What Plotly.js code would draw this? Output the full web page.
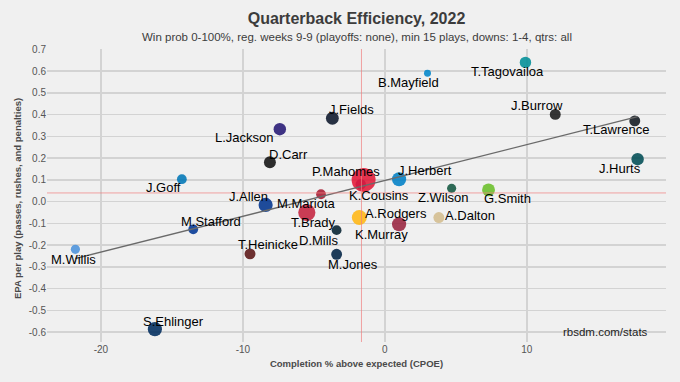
<!DOCTYPE html>
<html>
<head>
<meta charset="utf-8">
<script src="https://cdn.plot.ly/plotly-3.0.1.min.js"></script>
<style>html,body{margin:0;padding:0;background:#f0f0f0;}#chart{width:680px;height:382px;}</style>
</head>
<body>
<div id="chart"></div>
<script>
// ---- data ----
const players = ["M.Willis","M.Stafford","S.Ehlinger","T.Heinicke","J.Allen","M.Mariota","T.Brady","D.Mills","M.Jones","K.Cousins","P.Mahomes","A.Rodgers","K.Murray","J.Herbert","Z.Wilson","G.Smith","A.Dalton","B.Mayfield","T.Tagovailoa","J.Burrow","T.Lawrence","J.Hurts","J.Goff","L.Jackson","J.Fields","D.Carr"];
const cpoe = [-21.8,-13.5,-16.2,-9.5,-8.4,-4.5,-5.5,-3.4,-3.4,-1.7,-1.5,-1.8,1.0,1.0,4.7,7.3,3.8,3.0,9.9,12.0,17.6,17.8,-14.3,-7.4,-3.7,-8.1];
const epa = [-0.219,-0.127,-0.586,-0.240,-0.015,0.034,-0.050,-0.131,-0.242,0.080,0.100,-0.073,-0.104,0.103,0.061,0.054,-0.073,0.590,0.640,0.401,0.371,0.195,0.103,0.333,0.383,0.181];
const plays = [18,19,28,21,28,19,36,19,21,20,60,30,28,28,18,25,21,15,22,21,21,24,19,24,25,23];
const teamColors = ["#4B92DB","#003594","#002C5F","#5A1414","#00338D","#A71930","#C4223E","#03202F","#002244","#4F2683","#E31837","#FFB612","#97233F","#0080C6","#125740","#69BE28","#D3BC8D","#0085CA","#008E97","#1a1a1a","#101820","#004C54","#0076B6","#241773","#0B162A","#111111"];
const avgCPOE = -1.65;
const avgEPA = 0.04;
const xTickVals = [-20,-10,0,10];
const xTickText = ["-20","-10","0","10"];
const yTickVals = [0.7,0.6,0.5,0.4,0.3,0.2,0.1,0.0,-0.1,-0.2,-0.3,-0.4,-0.5,-0.6];
const yTickText = ["0.7","0.6","0.5","0.4","0.3","0.2","0.1","0.0","-0.1","-0.2","-0.3","-0.4","-0.5","-0.6"];

// ---- label placement (pixel offsets from the point: right, down) ----
const labelDx = [-2,18,19,18,-17,-15,7,-18,16,18,-18,37,-18,26,-8,19,31,-19,-18,-18,-19,-18,-18,-35,19,19];
const labelDy = [10,-8,-8,-9,-8,9,10,10,10,11,-8,-4,10,-9,9,9,-2,9,9,-9,9,9,8,8,-9,-8];

// marker diameter from plays (area-linear)
const sizes = plays.map(p => Math.sqrt(Math.max(20, -126.7 + 11.7 * p)));

// least squares fit
const n = cpoe.length;
const mx = cpoe.reduce((a,b)=>a+b,0)/n;
const my = epa.reduce((a,b)=>a+b,0)/n;
let sxy = 0, sxx = 0;
for (let i=0;i<n;i++){ sxy += (cpoe[i]-mx)*(epa[i]-my); sxx += (cpoe[i]-mx)**2; }
const slope = sxy/sxx, icpt = my - slope*mx;
const xmin = Math.min(...cpoe), xmax = Math.max(...cpoe);
const fitX = [xmin, xmax];
const fitY = fitX.map(v => icpt + slope*v);

const pts = {
  type:'scatter', mode:'markers', x:cpoe, y:epa, text:players, hoverinfo:'text',
  marker:{size:sizes, color:teamColors, opacity:0.88, line:{width:0}},
  showlegend:false
};
const fit = {
  type:'scatter', mode:'lines', x:fitX, y:fitY, hoverinfo:'skip',
  line:{color:'#6a6a6a', width:1.4}, showlegend:false
};

const annotations = players.map((name,i)=>({
  x:cpoe[i], y:epa[i], xref:'x', yref:'y', text:name, showarrow:false,
  xshift:labelDx[i], yshift:-labelDy[i],
  font:{family:'Liberation Sans, Arial, sans-serif', size:13, color:'#000'}
}));
annotations.push({
  xref:'paper', yref:'paper', x:0.5, y:1.041, yanchor:'middle', showarrow:false,
  text:'Win prob 0-100%, reg. weeks 9-9 (playoffs: none), min 15 plays, downs: 1-4, qtrs: all',
  font:{family:'Liberation Sans Narrow, Arial Narrow, sans-serif', size:11.5, color:'#3c3c3c'}
});
annotations.push({
  xref:'paper', yref:'paper', x:0.974, y:0.033, xanchor:'right', yanchor:'middle', showarrow:false,
  text:'rbsdm.com/stats',
  font:{family:'Liberation Sans, Arial, sans-serif', size:11.5, color:'#222'}
});
annotations.push({
  xref:'paper', yref:'paper', x:-30/619, y:0.488, xanchor:'center', yanchor:'middle', textangle:-90, showarrow:false,
  text:'<b>EPA per play (passes, rushes, and penalties)</b>',
  font:{family:'Liberation Sans, Arial, sans-serif', size:9.5, color:'#4a4a4a'}
});

const layout = {
  width:680, height:382,
  paper_bgcolor:'#f0f0f0', plot_bgcolor:'#f0f0f0',
  margin:{l:47, r:14, t:49, b:40},
  title:{text:'<b>Quarterback Efficiency, 2022</b>', x:0.5, xref:'paper', y:1-18/382, yref:'container', yanchor:'middle',
    font:{family:'Liberation Sans Narrow, Arial Narrow, sans-serif', size:16, color:'#3c3c3c'}},
  xaxis:{range:[-23.8,19.8], tickvals:xTickVals, ticktext:xTickText, showgrid:true, gridcolor:'#d3d3d3', gridwidth:1.5,
    zeroline:false, showline:false, ticks:'', tickfont:{family:'Liberation Sans, Arial, sans-serif', size:10, color:'#555'},
    title:{text:'<b>Completion % above expected (CPOE)</b>', standoff:6, font:{family:'Liberation Sans, Arial, sans-serif', size:9.5, color:'#4a4a4a'}},
    automargin:false, fixedrange:true},
  yaxis:{range:[-0.645,0.7015], tickvals:yTickVals, ticktext:yTickText, showgrid:true, gridcolor:'#d3d3d3', gridwidth:1.5,
    zeroline:false, showline:false, ticks:'', tickfont:{family:'Liberation Sans, Arial, sans-serif', size:10, color:'#555'},
    automargin:false, fixedrange:true},
  shapes:[
    {type:'line', xref:'x', yref:'paper', x0:avgCPOE, x1:avgCPOE, y0:0, y1:1, line:{color:'#f08080', width:1}, opacity:0.7, layer:'above'},
    {type:'line', xref:'paper', yref:'y', x0:0, x1:1, y0:avgEPA, y1:avgEPA, line:{color:'#f08080', width:1}, opacity:0.7, layer:'above'}
  ],
  annotations:annotations
};
Plotly.newPlot('chart', [pts, fit], layout, {displayModeBar:false, staticPlot:true});
</script>
</body>
</html>
